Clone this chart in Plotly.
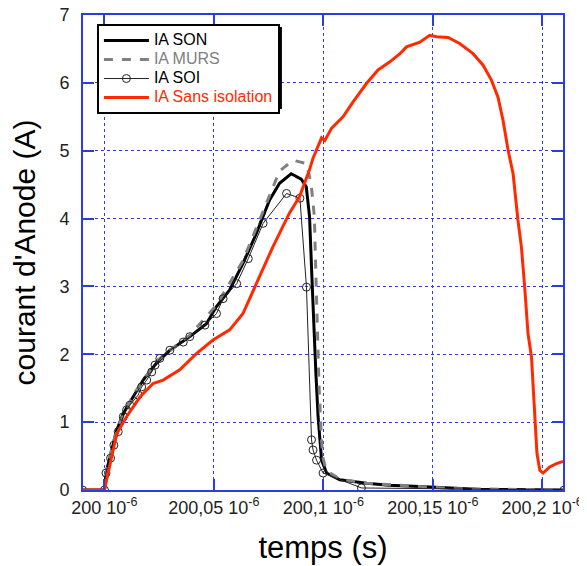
import plotly.graph_objects as go

# temps en microsecondes (affiche comme "200 10-6" etc.)
son_t = [199.99, 200.0, 200.001, 200.0033, 200.0056, 200.0086, 200.0131, 200.0177, 200.0238,
         200.0299, 200.039, 200.0466, 200.0511, 200.0572, 200.0633, 200.0694, 200.0754, 200.08,
         200.0853, 200.0899, 200.0922, 200.0937, 200.0949, 200.0953, 200.0966, 200.0976, 200.0992,
         200.1015, 200.1075, 200.1197, 200.13, 200.144, 200.156, 200.17, 200.21]
son_i = [0, 0, 0.29, 0.59, 0.88, 1.13, 1.37, 1.62, 1.87,
         2.06, 2.26, 2.45, 2.70, 2.95, 3.34, 3.78, 4.27, 4.52,
         4.66, 4.58, 4.47, 4.03, 3.04, 2.70, 1.72, 1.08, 0.44,
         0.25, 0.15, 0.10, 0.07, 0.05, 0.03, 0.01, 0]

murs_t = [199.99, 200.0, 200.001, 200.0056, 200.0131, 200.0238, 200.039, 200.0511, 200.0633,
          200.0754, 200.08, 200.0862, 200.0923, 200.0944, 200.0959, 200.0967, 200.098, 200.099,
          200.0997, 200.1013, 200.1075, 200.1197, 200.144, 200.16, 200.21]
murs_i = [0, 0, 0.30, 0.90, 1.40, 1.90, 2.28, 2.72, 3.38,
          4.35, 4.70, 4.86, 4.81, 4.52, 4.03, 3.04, 1.57, 0.83,
          0.49, 0.29, 0.16, 0.10, 0.05, 0.02, 0]

soi_t = [199.99, 200.0, 200.0007, 200.0028, 200.0043, 200.0063, 200.0086, 200.0101, 200.0116,
         200.0154, 200.017, 200.0193, 200.0216, 200.0231, 200.0253, 200.0299, 200.036, 200.039,
         200.0459, 200.0512, 200.0542, 200.0604, 200.0657, 200.0725, 200.0832, 200.0893, 200.0923,
         200.0946, 200.0953, 200.0969, 200.0999, 200.1174, 200.21]
soi_i = [0, 0, 0.25, 0.47, 0.66, 0.86, 1.08, 1.18, 1.25,
         1.40, 1.52, 1.62, 1.74, 1.84, 1.94, 2.06, 2.18, 2.26,
         2.43, 2.60, 2.82, 3.04, 3.41, 3.93, 4.37, 4.30, 2.99,
         0.74, 0.59, 0.44, 0.25, 0.03, 0]

sans_t = [199.99, 200.0, 200.0056, 200.0101, 200.0162, 200.0222, 200.0268, 200.0344, 200.042,
          200.0496, 200.0572, 200.0633, 200.0694, 200.0769, 200.0845, 200.0891, 200.0936, 200.0953,
          200.0992, 200.1007, 200.1037, 200.109, 200.1136, 200.1197, 200.125, 200.1304, 200.135,
          200.138, 200.1441, 200.1486, 200.1517, 200.157, 200.1623, 200.1684, 200.173, 200.1768,
          200.1798, 200.1821, 200.1844, 200.1867, 200.1889, 200.1905, 200.192, 200.1935, 200.1951,
          200.1966, 200.1976, 200.1989, 200.2004, 200.2034, 200.2065, 200.2095]
sans_i = [0, 0, 0.83, 1.08, 1.37, 1.57, 1.62, 1.77, 2.01,
          2.21, 2.36, 2.60, 3.04, 3.58, 4.08, 4.32, 4.71, 4.89,
          5.19, 5.15, 5.33, 5.50, 5.72, 5.99, 6.19, 6.31, 6.43,
          6.53, 6.60, 6.70, 6.68, 6.67, 6.58, 6.43, 6.26, 6.04,
          5.79, 5.45, 5.01, 4.66, 3.98, 3.58, 2.99, 2.31, 1.96,
          1.03, 0.54, 0.29, 0.25, 0.34, 0.39, 0.42]

x_ticks = [200.0, 200.05, 200.1, 200.15, 200.2]
x_labels = ["200 10<sup>-6</sup>", "200,05 10<sup>-6</sup>", "200,1 10<sup>-6</sup>",
            "200,15 10<sup>-6</sup>", "200,2 10<sup>-6</sup>"]

BLUE = "#2a3ee0"
RED = "#ff2a00"
GREY = "#808080"
FONT = "Arial, Liberation Sans, sans-serif"


def leg_name(text, color="black"):
    # texte plus grand que la police de la legende -> entrees plus serrees
    return "<span style='font-size:16px;color:%s'>%s</span>" % (color, text)


fig = go.Figure()
fig.add_trace(go.Scatter(x=son_t, y=son_i, mode="lines", name=leg_name("IA SON"),
                         line=dict(color="black", width=3)))
fig.add_trace(go.Scatter(x=murs_t, y=murs_i, mode="lines", name=leg_name("IA MURS", GREY),
                         line=dict(color=GREY, width=3, dash="dash")))
fig.add_trace(go.Scatter(x=soi_t, y=soi_i, mode="lines+markers", name=leg_name("IA SOI"),
                         line=dict(color="#222222", width=1),
                         marker=dict(symbol="circle-open", size=8, color="#222222",
                                     line=dict(width=1))))
fig.add_trace(go.Scatter(x=sans_t, y=sans_i, mode="lines",
                         name=leg_name("IA Sans isolation", RED),
                         line=dict(color=RED, width=3)))

axis_common = dict(
    showline=True, linecolor=BLUE, linewidth=2, mirror="allticks",
    ticks="inside", ticklen=11, tickcolor=BLUE, tickwidth=2,
    showgrid=True, gridcolor=BLUE, griddash="dot", gridwidth=1,
    zeroline=False, automargin=False, ticklabeloverflow="allow",
    tickfont=dict(family=FONT, size=18, color="#222222"),
)

fig.update_xaxes(range=[199.9902, 200.2095], tickvals=x_ticks, ticktext=x_labels,
                 title=dict(text="temps (s)", font=dict(family=FONT, size=31, color="black"),
                            standoff=20),
                 **axis_common)
fig.update_yaxes(range=[0, 7], dtick=1,
                 title=dict(text="courant d'Anode (A)", font=dict(family=FONT, size=30, color="black"),
                            standoff=15),
                 ticklabelstandoff=8,
                 **axis_common)

# legende: ombre portee derriere le cadre
leg_x, leg_y = 0.029, 0.981
leg_w, leg_h = 182, 82
fig.add_shape(type="rect", xref="paper", yref="paper", layer="above",
              x0=leg_x + 3 / 480, x1=leg_x + (leg_w + 3) / 480,
              y0=leg_y - (leg_h + 3) / 475, y1=leg_y - 3 / 475,
              fillcolor="black", line=dict(width=0))

fig.update_layout(
    width=579, height=558,
    margin=dict(l=75, r=24, t=7, b=76),
    paper_bgcolor="white", plot_bgcolor="white",
    font=dict(family=FONT, size=15, color="black"),
    showlegend=True,
    legend=dict(x=leg_x, y=leg_y, xanchor="left", yanchor="top",
                bgcolor="white", bordercolor="black", borderwidth=2,
                font=dict(family=FONT, size=11, color="black"),
                itemwidth=45, tracegroupgap=0),
)

fig.write_html("out.html")
